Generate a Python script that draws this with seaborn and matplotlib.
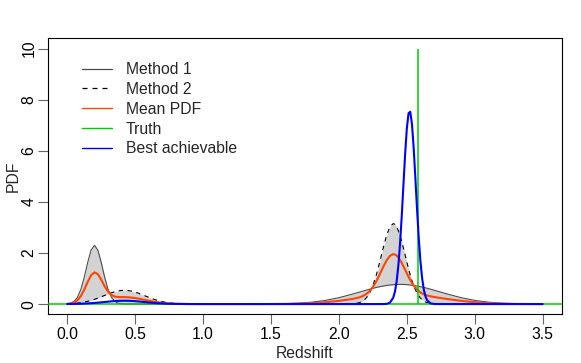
import numpy as np
import pandas as pd
import matplotlib
matplotlib.use("Agg")
import matplotlib.pyplot as plt
import seaborn as sns
from matplotlib.lines import Line2D

# ---------------- data ----------------
redshift = [
    0.0, 0.025, 0.05, 0.075, 0.1, 0.125, 0.15, 0.175, 0.2, 0.225, 0.25, 0.275,
    0.3, 0.325, 0.35, 0.375, 0.4, 0.425, 0.45, 0.475, 0.5, 0.525, 0.55, 0.575,
    0.6, 0.625, 0.65, 0.675, 0.7, 0.725, 0.75, 0.775, 0.8,
    0.9, 1.0, 1.1, 1.2, 1.3, 1.4, 1.5, 1.6, 1.7, 1.8, 1.9, 2.0, 2.1,
    2.15, 2.175, 2.2, 2.225, 2.25, 2.275, 2.3, 2.325, 2.35, 2.375,
    2.4, 2.4125, 2.425, 2.4375, 2.45, 2.4625, 2.475, 2.4875, 2.5, 2.5125, 2.525,
    2.5375, 2.55, 2.5625, 2.575, 2.5875, 2.6, 2.6125, 2.625, 2.6375, 2.65,
    2.675, 2.7, 2.725, 2.75, 2.775, 2.8,
    2.9, 3.0, 3.1, 3.2, 3.3, 3.4, 3.5,
]

method1_pdf = [
    0.009, 0.033, 0.101, 0.263, 0.574, 1.053, 1.625, 2.109, 2.300, 2.109, 1.625, 1.053,
    0.574, 0.263, 0.101, 0.033, 0.009, 0.002, 0, 0, 0, 0, 0, 0,
    0, 0, 0, 0, 0, 0, 0, 0, 0,
    0, 0, 0, 0, 0, 0, 0.005, 0.014, 0.034, 0.074, 0.143, 0.250, 0.390,
    0.467, 0.506, 0.544, 0.581, 0.617, 0.650, 0.680, 0.706, 0.728, 0.746,
    0.759, 0.764, 0.767, 0.769, 0.770, 0.769, 0.767, 0.764, 0.759, 0.753, 0.746,
    0.738, 0.728, 0.718, 0.706, 0.693, 0.680, 0.665, 0.650, 0.633, 0.617,
    0.581, 0.544, 0.506, 0.467, 0.428, 0.390,
    0.250, 0.143, 0.074, 0.034, 0.014, 0.005, 0.001,
]

method2_pdf = [
    0.011, 0.017, 0.026, 0.038, 0.055, 0.078, 0.107, 0.142, 0.184, 0.232, 0.284, 0.338,
    0.392, 0.442, 0.484, 0.516, 0.535, 0.540, 0.529, 0.505, 0.468, 0.423, 0.371, 0.317,
    0.263, 0.212, 0.167, 0.127, 0.095, 0.068, 0.048, 0.033, 0.022,
    0.003, 0, 0, 0, 0, 0, 0, 0, 0, 0, 0, 0, 0.009,
    0.053, 0.116, 0.231, 0.426, 0.725, 1.135, 1.640, 2.182, 2.676, 3.024,
    3.150, 3.118, 3.024, 2.874, 2.676, 2.441, 2.182, 1.911, 1.640, 1.378, 1.135,
    0.916, 0.725, 0.562, 0.426, 0.317, 0.231, 0.165, 0.116, 0.079, 0.053,
    0.023, 0.009, 0.003, 0.001, 0, 0,
    0, 0, 0, 0, 0, 0, 0,
]

best_pdf = [
    0.003, 0.004, 0.006, 0.009, 0.013, 0.019, 0.026, 0.034, 0.044, 0.056, 0.068, 0.081,
    0.094, 0.106, 0.117, 0.124, 0.129, 0.130, 0.127, 0.122, 0.113, 0.102, 0.089, 0.076,
    0.063, 0.051, 0.040, 0.031, 0.023, 0.016, 0.012, 0.008, 0.005,
    0.001, 0, 0, 0, 0, 0, 0, 0, 0, 0, 0, 0, 0,
    0, 0, 0, 0, 0, 0, 0, 0, 0.008, 0.053,
    0.252, 0.493, 0.898, 1.516, 2.378, 3.466, 4.691, 5.898, 6.887, 7.470, 7.525,
    7.042, 6.120, 4.940, 3.703, 2.579, 1.668, 1.002, 0.559, 0.290, 0.139,
    0.026, 0.004, 0, 0, 0, 0,
    0, 0, 0, 0, 0, 0, 0,
]

truth_z = 2.58
truth_top = 10

legend_labels = ["Method 1", "Method 2", "Mean PDF", "Truth", "Best achievable"]
x_ticks = [0.0, 0.5, 1.0, 1.5, 2.0, 2.5, 3.0, 3.5]
x_tick_labels = ["0.0", "0.5", "1.0", "1.5", "2.0", "2.5", "3.0", "3.5"]
y_ticks = [0, 2, 4, 6, 8, 10]
y_tick_labels = ["0", "2", "4", "6", "8", "10"]

df = pd.DataFrame({
    "z": redshift,
    "m1": method1_pdf,
    "m2": method2_pdf,
    "best": best_pdf,
})
df["mean"] = (df["m1"] + df["m2"]) / 2.0

# ---------------- styling ----------------
sns.set_style("white")
plt.rcParams["font.family"] = ["Liberation Sans", "DejaVu Sans"]
FS = 11.3

C_M1 = "#4D4D4D"
C_M2 = "#000000"
C_MEAN = "#FF4500"
C_TRUTH = "#00CD00"
C_BEST = "#0000FF"
C_FILL = "#D3D3D3"
DASH = (0, (4, 4))

fig = plt.figure(figsize=(5.81, 3.63), dpi=100)
ax = fig.add_axes([0.0831, 0.1342, 0.8837, 0.7603])

ax.fill_between(df["z"], df["m1"], df["m2"], color=C_FILL, lw=0, zorder=1)
sns.lineplot(data=df, x="z", y="m1", ax=ax, color=C_M1, lw=0.8, zorder=2)
sns.lineplot(data=df, x="z", y="m2", ax=ax, color=C_M2, lw=0.8,
             linestyle=DASH, zorder=2)
sns.lineplot(data=df, x="z", y="mean", ax=ax, color=C_MEAN, lw=1.5, zorder=3)
ax.axhline(0, color=C_TRUTH, lw=1.1, zorder=4)
ax.vlines(truth_z, 0, truth_top, color=C_TRUTH, lw=1.1, zorder=4)
sns.lineplot(data=df, x="z", y="best", ax=ax, color=C_BEST, lw=1.5, zorder=5)

ax.set_xlim(-0.14, 3.64)
ax.set_ylim(-0.4, 10.4)
ax.set_xticks(x_ticks)
ax.set_xticklabels(x_tick_labels)
ax.set_yticks(y_ticks)
ax.set_yticklabels(y_tick_labels, rotation=90, va="center")

ax.tick_params(axis="both", direction="out", length=7.2, width=0.8,
               color="#666666", labelsize=FS, labelcolor="black")
ax.tick_params(axis="x", pad=2.2)
ax.tick_params(axis="y", pad=1.2)
ax.tick_params(bottom=True, left=True)

for sp in ax.spines.values():
    sp.set_visible(True)
    sp.set_color("black")
    sp.set_linewidth(0.8)

ax.set_xlabel("Redshift", fontsize=FS)
ax.set_ylabel("PDF", fontsize=FS)
ax.xaxis.label.set_va("center")
ax.yaxis.label.set_va("center")
ax.xaxis.set_label_coords(0.5, (314.3 - 353.5) / 276.0)
ax.yaxis.set_label_coords((13.3 - 48.3) / 513.4, 0.5)

handles = [
    Line2D([], [], color=C_M1, lw=0.9),
    Line2D([], [], color=C_M2, lw=0.9, linestyle=DASH),
    Line2D([], [], color=C_MEAN, lw=1.0),
    Line2D([], [], color=C_TRUTH, lw=1.0),
    Line2D([], [], color=C_BEST, lw=1.0),
]
ax.legend(handles, legend_labels, loc="upper left",
          bbox_to_anchor=(81.7 / 581, 1 - 62.0 / 363),
          bbox_transform=fig.transFigure, frameon=False, fontsize=FS,
          handlelength=1.91, handletextpad=0.91, labelspacing=0.31,
          borderpad=0, borderaxespad=0)

fig.savefig("out.png", dpi=100)
